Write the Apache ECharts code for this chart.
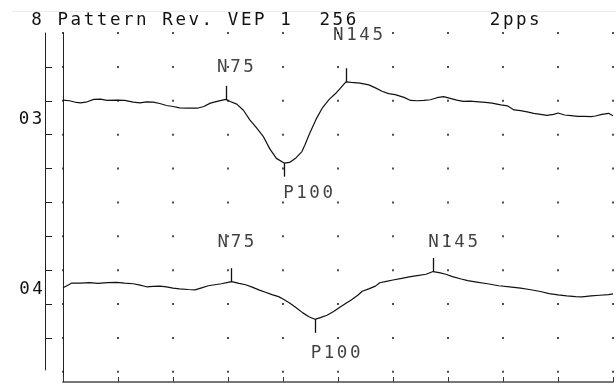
<!DOCTYPE html>
<html><head><meta charset="utf-8">
<script src="https://cdn.jsdelivr.net/npm/echarts@6/dist/echarts.min.js"></script>
<style>html,body{margin:0;padding:0;background:#fff}#c{width:616px;height:385px}</style>
</head><body><div id="c"></div>
<script>
// ---- data (time in ms, amplitude in screen divisions from top row, downward) ----
const titleText = '8 Pattern Rev. VEP 1  256          2pps';
const channelNames = ['03', '04'];

const time03 = [0,3,6,8,11,14,17,20,24,28,32,35,38,41,44,47,50,53,57,61,64,67,70,72,74,76,79,82,85,88,91,94,97,100.5,103,106,108.6,110,112,115,118,121,124,126.5,128.6,131,135,139,142,145,148,151,155,158,161,164,167,170,173,176,179,182,185,189,192,195,199,202,205,208,211,214,217,220,223,225,228,231,234,237,240,242,245,248,250];
const amp03  = [1.98,2.00,2.05,2.06,2.03,1.96,1.95,1.99,1.98,1.99,2.04,2.06,2.03,2.04,2.08,2.14,2.17,2.21,2.22,2.22,2.17,2.07,2.02,1.99,1.96,2.02,2.10,2.28,2.57,2.80,3.05,3.42,3.70,3.84,3.82,3.68,3.50,3.30,2.98,2.55,2.20,1.96,1.78,1.60,1.44,1.46,1.48,1.53,1.62,1.72,1.79,1.82,1.90,1.99,2.00,1.99,1.97,1.91,1.88,1.93,1.98,2.02,2.01,2.03,2.05,2.07,2.12,2.15,2.27,2.29,2.33,2.37,2.40,2.43,2.40,2.36,2.42,2.44,2.46,2.46,2.47,2.45,2.40,2.37,2.44];

const time04 = [0,2,4,8,12,16,20,24.5,28,32,35,38,41,44,47,50,53,57,60,63,66,69,72,75,76.7,80,83,86,89,92,95,98,100,103,106,109,112,114.5,117,120,123,126,129,131,134,136,139,142,144,147,150,154,158,161,165,168.2,171,174,177,181,184,188,193,198,203,208,212,217,221,225,229,233,236,240,244,248,250];
const amp04  = [7.52,7.45,7.38,7.38,7.37,7.39,7.37,7.36,7.38,7.40,7.44,7.49,7.48,7.47,7.49,7.53,7.55,7.57,7.58,7.52,7.46,7.43,7.40,7.36,7.34,7.39,7.43,7.50,7.58,7.65,7.72,7.78,7.85,7.97,8.11,8.26,8.38,8.45,8.40,8.33,8.22,8.09,7.96,7.88,7.74,7.62,7.55,7.47,7.37,7.33,7.29,7.24,7.19,7.16,7.12,7.04,7.07,7.12,7.19,7.26,7.31,7.35,7.40,7.46,7.49,7.53,7.57,7.63,7.69,7.73,7.76,7.78,7.79,7.76,7.74,7.72,7.70];

const peakNames = ['N75', 'P100', 'N145'];
const peakTime03 = [74, 100.5, 128.6];
const peakAmp03  = [1.96, 3.84, 1.44];
const peakTime04 = [76.7, 114.5, 168.2];
const peakAmp04  = [7.34, 8.45, 7.04];
const labelTime03 = [78.4, 111.4, 134.1];
const labelAmp03  = [1.02, 4.75, 0.07];
const labelTime04 = [78.6, 123.9, 177.3];
const labelAmp04  = [6.18, 9.47, 6.18];

// ---- layout / style ----
const FONT = '"DejaVu Sans Mono", "Liberation Mono", monospace';
const INK = '#111';
const PITCH = 13.1;
function mono(s) { return s.split('').map(ch => '{c|' + ch + '}').join(''); }
const richC = { c: { width: PITCH, align: 'center', fontFamily: FONT, fontSize: 17.5, color: INK, fill: INK } };

const xMax = 250, yMax = 10.3;
const zip = (a, b) => a.map((v, i) => [v, b[i]]);

const dots = [];
for (let x = 0; x <= xMax; x += 25) for (let y = 0; y <= 10; y += 1) dots.push([x, y]);

function tickLines(times, amps) {
  return times.map((t, i) => {
    const dir = peakNames[i][0] === 'P' ? 1 : -1;
    return [{ coord: [t, amps[i]] }, { coord: [t, amps[i] + dir * 0.4] }];
  });
}
function labelData(times, amps) {
  return times.map((t, i) => ({ name: peakNames[i], value: [t, amps[i]] }));
}
function traceSeries(times, amps, ptimes, pamps) {
  return {
    type: 'line', xAxisIndex: 0, yAxisIndex: 0, data: zip(times, amps),
    showSymbol: false, symbol: 'none', smooth: false,
    lineStyle: { color: INK, width: 1.2 }, silent: true,
    markLine: { silent: true, symbol: ['none', 'none'], animation: false,
      label: { show: false }, lineStyle: { color: INK, width: 1.3, type: 'solid' },
      data: tickLines(ptimes, pamps) }
  };
}
function labelSeries(times, amps) {
  return {
    type: 'scatter', xAxisIndex: 0, yAxisIndex: 0, symbolSize: 1, silent: true,
    itemStyle: { color: 'rgba(0,0,0,0)' }, data: labelData(times, amps),
    label: { show: true, position: 'inside', formatter: p => mono(p.name), rich: richC }
  };
}

const chart = echarts.init(document.getElementById('c'), null, { renderer: 'canvas' });
chart.setOption({
  animation: false,
  backgroundColor: '#fff',
  grid: [
    { left: 63, right: 3, top: 33, bottom: 3 },
    { left: 45, width: 10, top: 33, height: 337 }
  ],
  xAxis: [
    { gridIndex: 0, type: 'value', min: 0, max: xMax, interval: 25, position: 'bottom',
      axisLine: { show: true, onZero: false, lineStyle: { color: '#777', width: 2 } },
      axisTick: { show: true, inside: true, length: 5, lineStyle: { color: '#333', width: 1 } },
      axisLabel: { show: false }, splitLine: { show: false } },
    { gridIndex: 1, type: 'value', min: 0, max: 1, show: false }
  ],
  yAxis: [
    { gridIndex: 0, type: 'value', min: 0, max: yMax, inverse: true,
      axisLine: { show: true, onZero: false, lineStyle: { color: '#222', width: 1 } },
      axisTick: { show: false }, axisLabel: { show: false }, splitLine: { show: false } },
    { gridIndex: 1, type: 'value', min: 0, max: 337 / 33.88, interval: 1, inverse: true,
      axisLine: { show: true, onZero: false, lineStyle: { color: '#222', width: 1 } },
      axisTick: { show: true, inside: true, length: 7, lineStyle: { color: '#222', width: 1 },
        customValues: [1, 2, 3, 4, 5, 6, 7, 8, 9] },
      axisLabel: { show: false }, splitLine: { show: false } }
  ],
  series: [
    { type: 'scatter', xAxisIndex: 0, yAxisIndex: 0, data: dots, symbol: 'rect', symbolSize: 2,
      itemStyle: { color: '#222' }, silent: true },
    traceSeries(time03, amp03, peakTime03, peakAmp03),
    traceSeries(time04, amp04, peakTime04, peakAmp04),
    labelSeries(labelTime03, labelAmp03),
    labelSeries(labelTime04, labelAmp04)
  ],
  graphic: [
    { type: 'line', silent: true, shape: { x1: 12, y1: 11.5, x2: 616, y2: 11.5 }, style: { stroke: '#ececec', lineWidth: 1 } },
    { type: 'text', silent: true, x: 30, y: 20, style: { text: mono(titleText), rich: richC, fill: INK, align: 'left', verticalAlign: 'middle' } },
    { type: 'text', silent: true, x: 30.5, y: 119, style: { text: mono(channelNames[0]), rich: richC, fill: INK, align: 'center', verticalAlign: 'middle' } },
    { type: 'text', silent: true, x: 31, y: 289.5, style: { text: mono(channelNames[1]), rich: richC, fill: INK, align: 'center', verticalAlign: 'middle' } }
  ]
});
</script>
</body></html>
